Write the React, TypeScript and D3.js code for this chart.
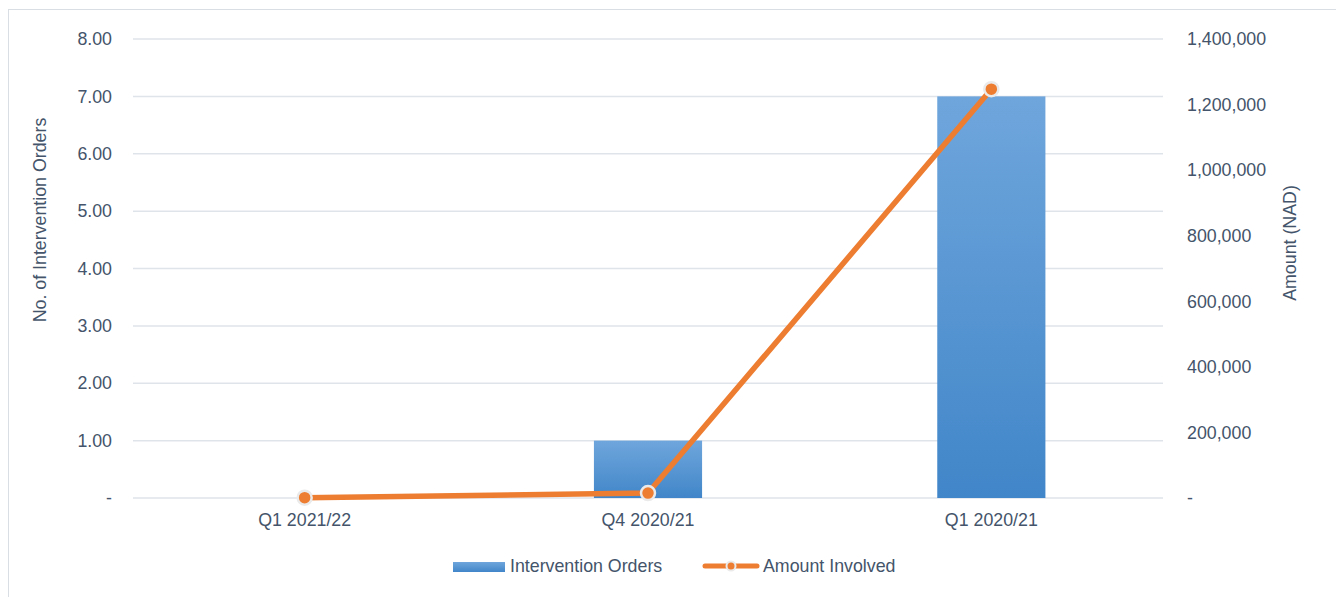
import React from "react";
import * as d3 from "d3";

const categories = ["Q1 2021/22", "Q4 2020/21", "Q1 2020/21"];
const orders = [0, 1, 7];
const amounts = [1000, 15000, 1247000];
const leftTicks = [0, 1, 2, 3, 4, 5, 6, 7, 8];
const rightTicks = [0, 200000, 400000, 600000, 800000, 1000000, 1200000, 1400000];

const W = 1336;
const H = 597;
const M = { left: 133, right: 1163, top: 39, bottom: 498 };
const TEXT = "#44546a";
const FONT = "'Liberation Sans', Arial, sans-serif";
const FS = 17.8;

export default function App() {
  const x = d3.scaleBand<string>().domain(categories).range([M.left, M.right]).paddingInner(0).paddingOuter(0);
  const yL = d3.scaleLinear().domain([0, 8]).range([M.bottom, M.top]);
  const yR = d3.scaleLinear().domain([0, 1400000]).range([M.bottom, M.top]);
  const bw = x.bandwidth() * 0.315;
  const cx = (i: number) => (x(categories[i]) as number) + x.bandwidth() / 2;
  const line = d3
    .line<number>()
    .x((_, i) => cx(i))
    .y((d) => yR(d));
  const fmtL = (v: number) => (v === 0 ? "-" : d3.format(".2f")(v));
  const fmtR = (v: number) => (v === 0 ? "-" : d3.format(",")(v));

  return (
    <svg width={W} height={H} style={{ position: "absolute", left: 0, top: 0 }} fontFamily={FONT}>
      <defs>
        <linearGradient id="barGrad" x1="0" y1="0" x2="0" y2="1">
          <stop offset="0%" stopColor="#6fa6dc" />
          <stop offset="100%" stopColor="#4186c9" />
        </linearGradient>
      </defs>
      <rect x={0} y={0} width={W} height={H} fill="#ffffff" />
      <rect x={8.5} y={9.5} width={W - 8} height={H} fill="none" stroke="#d9dde4" strokeWidth={1} />
      {leftTicks.map((t) => (
        <g key={"g" + t}>
          <line x1={M.left} x2={M.right} y1={yL(t)} y2={yL(t)} stroke="#dfe3ea" strokeWidth={1.5} />
          <text x={112} y={yL(t)} dy="0.35em" textAnchor="end" fontSize={FS} fill={TEXT}>
            {fmtL(t)}
          </text>
        </g>
      ))}
      {rightTicks.map((t) => (
        <text key={"r" + t} x={1187} y={yR(t)} dy="0.35em" textAnchor="start" fontSize={FS} fill={TEXT}>
          {fmtR(t)}
        </text>
      ))}
      {categories.map((c, i) => (
        <g key={c}>
          {orders[i] > 0 && (
            <rect
              x={cx(i) - bw / 2}
              y={yL(orders[i])}
              width={bw}
              height={yL(0) - yL(orders[i])}
              fill="url(#barGrad)"
            />
          )}
          <text x={cx(i)} y={526} textAnchor="middle" fontSize={FS} fill={TEXT}>
            {c}
          </text>
        </g>
      ))}
      <path d={line(amounts) || ""} fill="none" stroke="#ed7d31" strokeWidth={5.5} strokeLinejoin="round" strokeLinecap="round" />
      {amounts.map((a, i) => (
        <circle key={"m" + i} cx={cx(i)} cy={yR(a)} r={7} fill="#ed7d31" stroke="#eaeaea" strokeWidth={2.5} />
      ))}
      <text transform={`translate(46,220) rotate(-90)`} textAnchor="middle" fontSize={FS} fill={TEXT}>
        No. of Intervention Orders
      </text>
      <text transform={`translate(1296,243) rotate(-90)`} textAnchor="middle" fontSize={FS} fill={TEXT}>
        Amount (NAD)
      </text>
      <g>
        <rect x={453} y={562} width={52} height={10} fill="url(#barGrad)" />
        <text x={510} y={572} fontSize={FS} fill={TEXT}>
          Intervention Orders
        </text>
        <line x1={705} x2={757} y1={566} y2={566} stroke="#ed7d31" strokeWidth={5} strokeLinecap="round" />
        <circle cx={731} cy={566} r={4.5} fill="#ed7d31" stroke="#eaeaea" strokeWidth={2} />
        <text x={763} y={572} fontSize={FS} fill={TEXT}>
          Amount Involved
        </text>
      </g>
    </svg>
  );
}
